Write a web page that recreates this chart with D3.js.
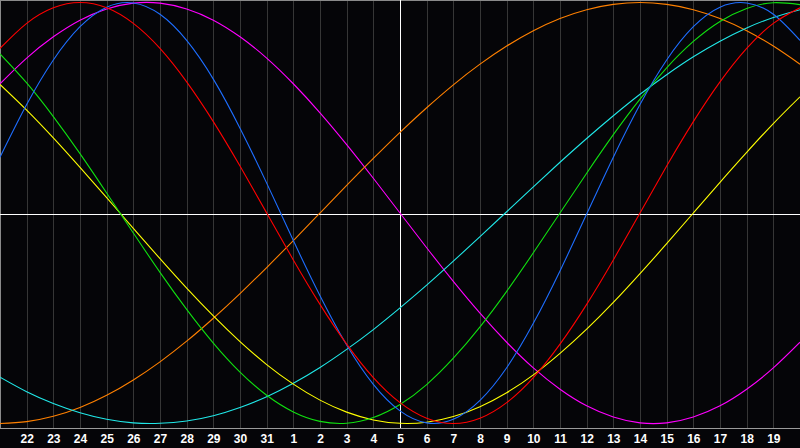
<!DOCTYPE html>
<html>
<head>
<meta charset="utf-8">
<script src="https://cdn.jsdelivr.net/npm/d3@7"></script>
<style>
  html, body { margin: 0; padding: 0; background: #050508; }
  svg { display: block; }
</style>
</head>
<body>
<svg id="chart" width="800" height="448"></svg>
<script>
// day labels, first and last point are off the axis labels
const days = ['21','22','23','24','25','26','27','28','29','30','31','1','2','3','4','5','6','7','8','9','10','11','12','13','14','15','16','17','18','19','20'];
const markerDay = '5';

// values per day, -1..1
const red = [0.782,0.901,0.975,1,0.975,0.901,0.782,0.623,0.434,0.223,0,-0.223,-0.434,-0.623,-0.782,-0.901,-0.975,-1,-0.975,-0.901,-0.782,-0.623,-0.434,-0.223,0,0.223,0.434,0.623,0.782,0.901,0.975];
const blue = [0.265,0.515,0.727,0.885,0.978,0.998,0.944,0.820,0.636,0.403,0.142,-0.131,-0.393,-0.627,-0.814,-0.940,-0.997,-0.980,-0.890,-0.735,-0.524,-0.275,-0.005,0.265,0.515,0.727,0.885,0.978,0.998,0.944,0.820];
const green = [0.756,0.618,0.458,0.282,0.095,-0.095,-0.282,-0.458,-0.618,-0.756,-0.866,-0.945,-0.990,-0.999,-0.972,-0.910,-0.815,-0.690,-0.541,-0.372,-0.189,0,0.189,0.372,0.541,0.690,0.815,0.910,0.972,0.999,0.990];
const magenta = [0.614,0.736,0.837,0.916,0.969,0.997,0.997,0.969,0.916,0.837,0.736,0.614,0.476,0.325,0.165,0,-0.165,-0.325,-0.476,-0.614,-0.736,-0.837,-0.916,-0.969,-0.997,-0.997,-0.969,-0.916,-0.837,-0.736,-0.614];
const orange = [-1,-0.991,-0.966,-0.924,-0.866,-0.793,-0.707,-0.609,-0.5,-0.383,-0.259,-0.131,0,0.131,0.259,0.383,0.5,0.609,0.707,0.793,0.866,0.924,0.966,0.991,1,0.991,0.966,0.924,0.866,0.793,0.707];
const yellow = [0.611,0.489,0.357,0.217,0.073,-0.073,-0.217,-0.357,-0.489,-0.611,-0.720,-0.813,-0.889,-0.946,-0.983,-0.999,-0.994,-0.967,-0.920,-0.854,-0.769,-0.667,-0.552,-0.425,-0.288,-0.146,0,0.146,0.288,0.425,0.552];
const cyan = [-0.780,-0.849,-0.905,-0.949,-0.980,-0.997,-0.999,-0.988,-0.963,-0.924,-0.873,-0.809,-0.734,-0.648,-0.554,-0.451,-0.343,-0.229,-0.112,0.006,0.124,0.241,0.354,0.462,0.564,0.657,0.742,0.816,0.879,0.929,0.966];

const series = [
  { values: magenta, color: '#ff00ff' },
  { values: orange, color: '#ff8000' },
  { values: cyan, color: '#20e8e8' },
  { values: yellow, color: '#ffff00' },
  { values: green, color: '#10e010' },
  { values: blue, color: '#1e6eff' },
  { values: red, color: '#ff0000' }
];

const width = 800;
const plotBottom = 428;

const svg = d3.select('#chart');

svg.append('rect')
  .attr('width', width)
  .attr('height', 448)
  .attr('fill', '#050508');

const xScale = d3.scaleLinear().domain([0, days.length - 1]).range([0, width]);
const yScale = d3.scaleLinear().domain([-1, 1]).range([423.5, 2.5]);

const tickIdx = d3.range(1, days.length - 1);

// vertical grid
svg.append('g')
  .selectAll('line')
  .data(tickIdx)
  .enter().append('line')
  .attr('x1', i => Math.round(xScale(i)) + 0.5)
  .attr('x2', i => Math.round(xScale(i)) + 0.5)
  .attr('y1', 0)
  .attr('y2', plotBottom)
  .attr('stroke', '#363636')
  .attr('shape-rendering', 'crispEdges');

// frame
svg.append('line')
  .attr('x1', 0).attr('x2', width)
  .attr('y1', 0.5).attr('y2', 0.5)
  .attr('stroke', '#8a8a8a')
  .attr('shape-rendering', 'crispEdges');
svg.append('line')
  .attr('x1', 0.5).attr('x2', 0.5)
  .attr('y1', 0).attr('y2', plotBottom)
  .attr('stroke', '#8a8a8a')
  .attr('shape-rendering', 'crispEdges');

// bottom axis with day labels
const axis = d3.axisBottom(xScale)
  .tickValues(tickIdx)
  .tickSize(0)
  .tickPadding(6)
  .tickFormat(i => days[i]);

const axisG = svg.append('g')
  .attr('transform', `translate(0,${plotBottom + 0.5})`)
  .call(axis);

axisG.select('.domain')
  .attr('d', `M0,0H${width}`)
  .attr('stroke', '#9a9a9a')
  .attr('shape-rendering', 'crispEdges');

axisG.selectAll('text')
  .attr('fill', '#ffffff')
  .attr('dy', '0.71em')
  .style('font-family', '"Liberation Sans", Arial, sans-serif')
  .style('font-weight', 'bold')
  .style('font-size', '12px');

// today marker and zero line
const mi = days.indexOf(markerDay, 11);
svg.append('line')
  .attr('x1', xScale(mi) + 0.5).attr('x2', xScale(mi) + 0.5)
  .attr('y1', 0).attr('y2', plotBottom)
  .attr('stroke', '#ffffff')
  .attr('shape-rendering', 'crispEdges');
svg.append('line')
  .attr('x1', 0).attr('x2', width)
  .attr('y1', yScale(0) + 1.5).attr('y2', yScale(0) + 1.5)
  .attr('stroke', '#ffffff')
  .attr('shape-rendering', 'crispEdges');

const line = d3.line()
  .x((d, i) => xScale(i))
  .y(d => yScale(d))
  .curve(d3.curveNatural);

svg.append('g')
  .selectAll('path')
  .data(series)
  .enter().append('path')
  .attr('d', d => line(d.values))
  .attr('fill', 'none')
  .attr('stroke', d => d.color)
  .attr('stroke-width', 1.1);
</script>
</body>
</html>
